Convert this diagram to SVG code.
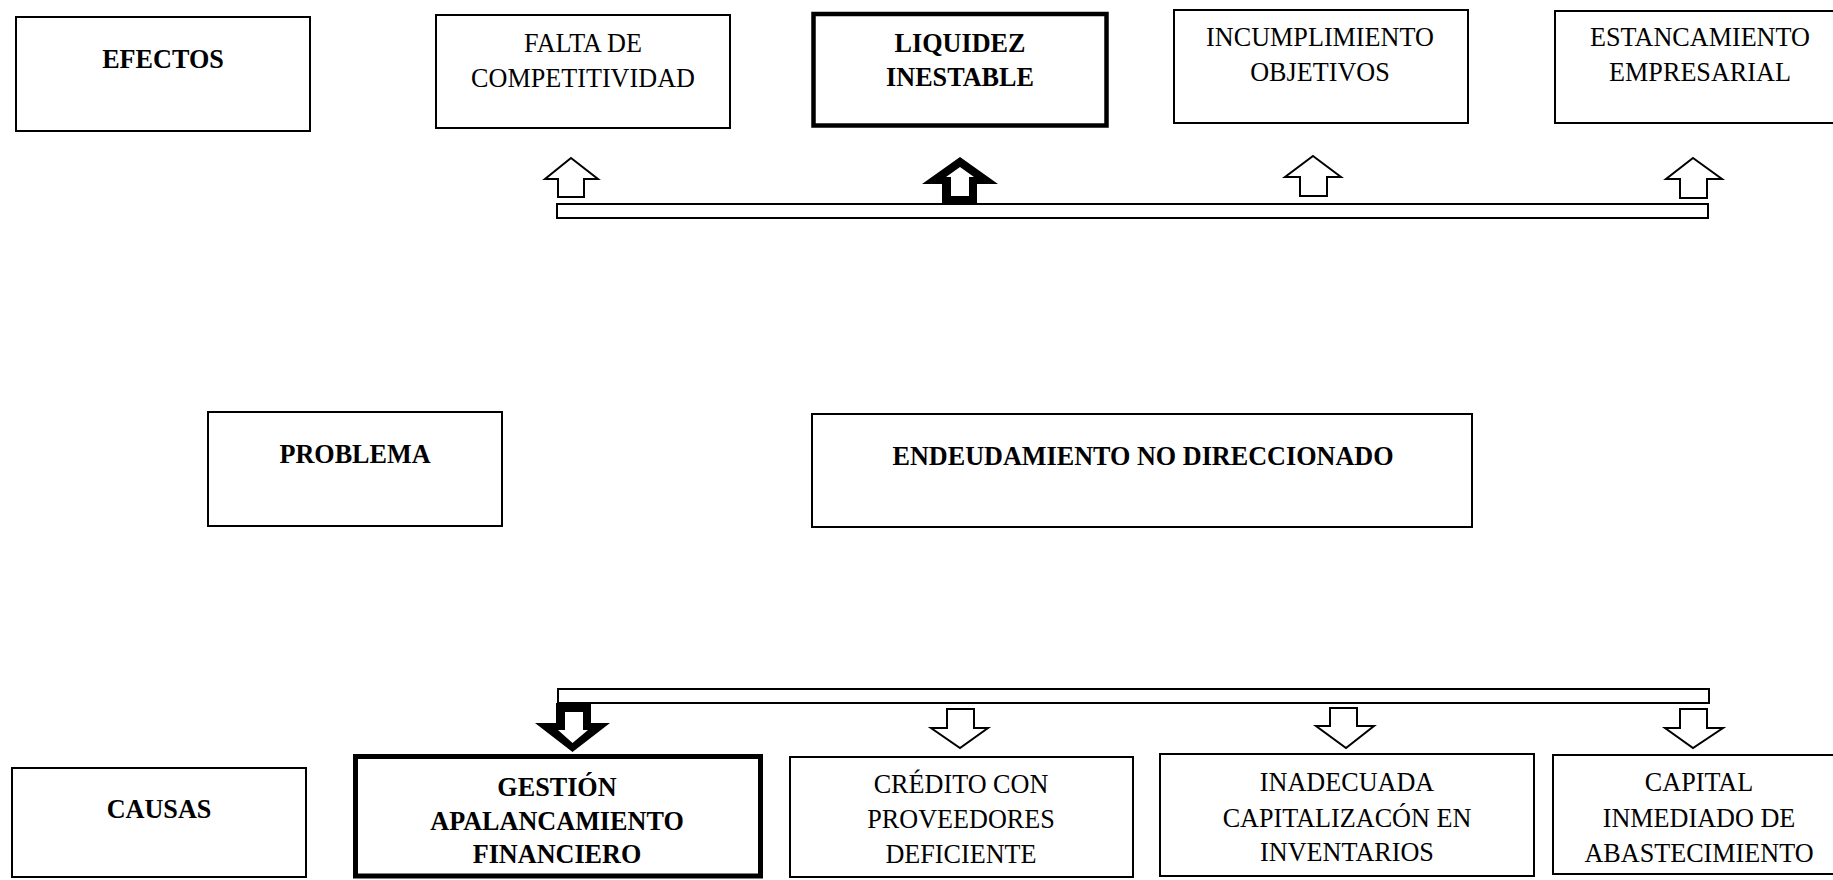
<svg xmlns="http://www.w3.org/2000/svg" width="1833" height="880" viewBox="0 0 1833 880">
<style>
.box{fill:#fff;stroke:#000;stroke-width:2}
.thick{fill:#fff;stroke:#000;stroke-width:5}
.t{font-family:"Liberation Serif","Times New Roman",serif;font-size:28px;fill:#000;text-anchor:middle}
.b{font-family:"Liberation Serif","Times New Roman",serif;font-size:28px;font-weight:bold;fill:#000;text-anchor:middle}
.arr{fill:#fff;stroke:#000;stroke-width:2;stroke-linejoin:miter}
.blk{fill:#000;stroke:none}
.wht{fill:#fff;stroke:none}
</style>
<rect x="0" y="0" width="1833" height="880" fill="#fff"/>

<g id="connectors">
  <rect class="arr" x="557" y="204" width="1151" height="14"/>
  <polygon class="arr" points="571,158 598,179 584,179 584,197 558,197 558,179 545,179"/>
  <polygon class="blk" points="960,157 998,184 977,184 977,204 942,204 942,184 922,184"/>
  <polygon class="wht" points="960,167 974,177 969,177 969,196 951,196 951,177 946,177"/>
  <polygon class="arr" points="1313,156 1341,177 1327,177 1327,196 1300,196 1300,177 1285,177"/>
  <polygon class="arr" points="1693,158 1722,179 1707,179 1707,198 1680,198 1680,179 1666,179"/>

  <rect class="arr" x="558" y="689" width="1151" height="14"/>
  <polygon class="blk" points="556,703 591,703 591,723 610,723 572.5,752 535,723 556,723"/>
  <polygon class="wht" points="565,712 583,712 583,730 588,730 572.5,743 558,730 565,730"/>
  <polygon class="arr" points="947,709 974,709 974,728 988,728 960,748 931,728 947,728"/>
  <polygon class="arr" points="1330,708 1357,708 1357,726 1374,726 1346,748 1316,726 1330,726"/>
  <polygon class="arr" points="1680,709 1707,709 1707,728 1723,728 1693,748 1665,728 1680,728"/>
</g>

<g id="efectos">
  <rect class="box" x="16" y="17" width="294" height="114"/>
  <text class="b" transform="translate(163 0) scale(0.935 1)" y="68">EFECTOS</text>
</g>
<g id="falta">
  <rect class="box" x="436" y="15" width="294" height="113"/>
  <text class="t" transform="translate(583 0) scale(0.935 1)"><tspan x="0" y="52">FALTA DE</tspan><tspan x="0" y="87">COMPETITIVIDAD</tspan></text>
</g>
<g id="liquidez">
  <rect class="box" x="813.5" y="14" width="293" height="111.5" style="stroke-width:4.5"/>
  <text class="b" transform="translate(960 0) scale(0.935 1)"><tspan x="0" y="52">LIQUIDEZ</tspan><tspan x="0" y="86">INESTABLE</tspan></text>
</g>
<g id="incumplimiento">
  <rect class="box" x="1174" y="10" width="294" height="113"/>
  <text class="t" transform="translate(1320 0) scale(0.935 1)"><tspan x="0" y="46">INCUMPLIMIENTO</tspan><tspan x="0" y="81">OBJETIVOS</tspan></text>
</g>
<g id="estancamiento">
  <rect class="box" x="1555" y="11" width="295" height="112"/>
  <text class="t" transform="translate(1700 0) scale(0.935 1)"><tspan x="0" y="46">ESTANCAMIENTO</tspan><tspan x="0" y="81">EMPRESARIAL</tspan></text>
</g>

<g id="problema">
  <rect class="box" x="208" y="412" width="294" height="114"/>
  <text class="b" transform="translate(355 0) scale(0.935 1)" y="463">PROBLEMA</text>
</g>
<g id="endeudamiento">
  <rect class="box" x="812" y="414" width="660" height="113"/>
  <text class="b" transform="translate(1143 0) scale(0.935 1)" y="465">ENDEUDAMIENTO NO DIRECCIONADO</text>
</g>

<g id="causas">
  <rect class="box" x="12" y="768" width="294" height="109"/>
  <text class="b" transform="translate(159 0) scale(0.935 1)" y="818">CAUSAS</text>
</g>
<g id="gestion">
  <rect class="thick" x="355.5" y="756.5" width="405" height="119.5"/>
  <text class="b" transform="translate(557 0) scale(0.935 1)"><tspan x="0" y="796">GESTIÓN</tspan><tspan x="0" y="830">APALANCAMIENTO</tspan><tspan x="0" y="863">FINANCIERO</tspan></text>
</g>
<g id="credito">
  <rect class="box" x="790" y="757" width="343" height="120"/>
  <text class="t" transform="translate(961 0) scale(0.935 1)"><tspan x="0" y="793">CRÉDITO CON</tspan><tspan x="0" y="828">PROVEEDORES</tspan><tspan x="0" y="863">DEFICIENTE</tspan></text>
</g>
<g id="inadecuada">
  <rect class="box" x="1160" y="754" width="374" height="122"/>
  <text class="t" transform="translate(1347 0) scale(0.935 1)"><tspan x="0" y="791">INADECUADA</tspan><tspan x="0" y="827">CAPITALIZACÓN EN</tspan><tspan x="0" y="861">INVENTARIOS</tspan></text>
</g>
<g id="capital">
  <rect class="box" x="1553" y="755" width="297" height="119"/>
  <text class="t" transform="translate(1699 0) scale(0.935 1)"><tspan x="0" y="791">CAPITAL</tspan><tspan x="0" y="827">INMEDIADO DE</tspan><tspan x="0" y="862">ABASTECIMIENTO</tspan></text>
</g>
</svg>
